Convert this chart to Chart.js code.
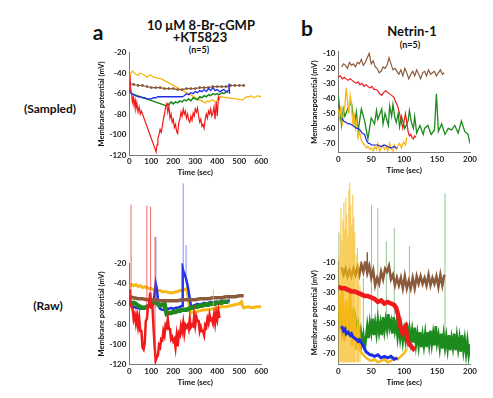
<!DOCTYPE html>
<html><head><meta charset="utf-8">
<script src="https://cdn.jsdelivr.net/npm/chart.js@4/dist/chart.umd.min.js"></script>
<style>
html,body{margin:0;padding:0;background:#fff;}
body{width:493px;height:398px;position:relative;overflow:hidden;font-family:Lato,"Open Sans",sans-serif;}
canvas{position:absolute;}
.t{position:absolute;transform:translate(-50%,-50%);font-weight:bold;color:#111;white-space:nowrap;line-height:1;}
</style></head><body>
<div class="t" style="left:98px;top:31px;font-size:21px;">a</div>
<div class="t" style="left:201px;top:25px;font-size:13px;">10 μM 8-Br-cGMP</div>
<div class="t" style="left:200px;top:37px;font-size:13px;">+KT5823</div>
<div class="t" style="left:199px;top:49px;font-size:9px;">(n=5)</div>
<div class="t" style="left:307px;top:27px;font-size:21px;">b</div>
<div class="t" style="left:412px;top:31px;font-size:13px;">Netrin-1</div>
<div class="t" style="left:410px;top:44px;font-size:9px;">(n=5)</div>
<div class="t" style="left:50px;top:109px;font-size:12px;">(Sampled)</div>
<div class="t" style="left:48px;top:306px;font-size:12px;">(Raw)</div>
<canvas id="aS" width="178" height="132" style="left:97px;top:45px;"></canvas>
<canvas id="bS" width="174" height="131" style="left:310px;top:44px;"></canvas>
<canvas id="aR" width="178" height="217" style="left:97px;top:170px;"></canvas>
<canvas id="bR" width="174" height="222" style="left:310px;top:165px;"></canvas>
<script>
// ---------- tick labels ----------
const aXTicks = [0,100,200,300,400,500,600];
const aYTicks = [-20,-40,-60,-80,-100,-120];
const bXTicks = [0,50,100,150,200];
const bYTicks = [-10,-20,-30,-40,-50,-60,-70];

// ---------- panel a, sampled ----------
const aS_yellow_x = [0,5,10,15,20,30,40,50,60,70,80,90,100,110,120,130,140,150,345,355,365,375,385,395,405,412,518,525,535,545,555,565,575,585,595,600];
const aS_yellow_y = [-45,-41,-39,-38,-39,-41,-42,-40,-41,-42,-44,-42,-42,-44,-44,-45,-45,-46,-69,-67,-68,-66,-67,-68,-65,-63,-66,-64,-63,-63,-62,-64,-63,-62,-63,-62];
const aS_brown_x = [0,20,40,60,80,100,120,140,160,180,200,220,240,260,280,300,320,340,360,380,400,420,440,460,480,500,520];
const aS_brown_y = [-50,-51,-52,-52,-53,-54,-54,-54,-55,-55,-55,-56,-56,-55,-55,-55,-54,-54,-54,-53,-53,-53,-53,-52,-52,-52,-52];
const aS_blue_x = [0,10,20,30,40,50,60,70,80,90,100,110,120,130,140,150,160,240,250,260,270,280,290,300,310,320,330,340,350,360,370,380,390,400,410,420,430,440,450,453,456];
const aS_blue_y = [-57,-60,-61,-62,-63,-63,-64,-64,-65,-65,-65,-64,-64,-63,-63,-63,-63,-63,-62,-60,-61,-59,-60,-58,-59,-57,-58,-56,-58,-55,-57,-54,-57,-56,-58,-57,-56,-58,-57,-50,-60];
const aS_green_x = [0,5,10,170,175,180,190,200,210,220,230,240,250,260,270,280,290,300,310,320,330,340,350,360,370,380,390,400,410,420,430,440,450];
const aS_green_y = [-55,-58,-60,-72,-70,-71,-68,-70,-68,-69,-67,-68,-66,-67,-65,-67,-64,-65,-66,-63,-64,-62,-63,-61,-62,-60,-61,-60,-61,-59,-60,-58,-59];
const aS_red_x = [0,3,6,10,14,18,22,26,30,35,40,45,50,55,122,126,130,135,140,145,150,155,160,165,170,175,180,185,190,195,200,205,210,215,220,225,230,235,240,245,250,255,260,265,270,275,280,285,290,295,300,305,310,315,320,325,330,335,340,345,350,355,360,365,370,375,380,385,390,395,400,405,410];
const aS_red_y = [-45,-42,-55,-60,-68,-63,-72,-66,-75,-70,-78,-73,-80,-77,-117,-110,-104,-100,-95,-98,-92,-85,-80,-73,-70,-78,-72,-84,-80,-88,-85,-93,-90,-97,-99,-88,-85,-78,-82,-75,-80,-77,-84,-80,-86,-88,-82,-86,-79,-82,-75,-78,-74,-82,-88,-85,-92,-90,-94,-85,-80,-84,-77,-80,-75,-82,-79,-73,-85,-68,-82,-63,-66];

// ---------- panel b, sampled ----------
const bS_brown_x = [5,8,11,14,17,20,23,26,29,32,35,38,41,44,47,50,53,56,59,62,65,68,71,74,77,80,83,86,89,92,95,98,101,104,107,110,113,116,119,122,125,128,131,134,137,140,143,146,149,152,155,158,161];
const bS_brown_y = [-19,-17,-18,-20,-16,-18,-17,-19,-16,-17,-14,-18,-16,-13,-10,-17,-15,-19,-20,-23,-22,-19,-20,-18,-13,-17,-21,-20,-22,-24,-21,-25,-20,-23,-27,-24,-22,-25,-21,-24,-27,-23,-22,-25,-21,-24,-23,-22,-25,-23,-21,-24,-23];
const bS_red_x = [0,3,6,9,12,15,18,21,24,27,30,33,36,39,42,45,48,51,54,57,60,63,66,69,72,75,78,81,84,87,90,93,96,98,100,102,104,106,108,110,112,114,116,118];
const bS_red_y = [-26,-25,-27,-26,-27,-28,-27,-28,-29,-30,-29,-31,-30,-32,-31,-32,-33,-32,-34,-34,-35,-37,-38,-36,-35,-36,-37,-38,-39,-42,-45,-50,-56,-60,-55,-50,-56,-62,-65,-64,-66,-67,-65,-66];
const bS_green_x = [0,2.5,5,7.5,10,15,20,22.5,25,27.5,30,35,40,45,47.5,50,55,58,60,66,68,71,76,78,81,83,86,88,91,93,96,101,106,108,111,114,116,119,124,129,131,136,141,146,149,152,157,162,167,172,177,182,187,192,197,200];
const bS_green_y = [-38,-49,-58,-47,-52,-46,-43,-51,-56,-49,-62,-47,-55,-67,-60,-53,-57,-48,-54,-47,-57,-50,-58,-45,-52,-44,-53,-56,-50,-59,-52,-60,-55,-48,-56,-60,-52,-63,-58,-64,-60,-58,-64,-61,-37,-62,-57,-64,-60,-61,-58,-63,-55,-62,-64,-70];
const bS_yellow_x = [0,2,4,6,8,10,12,14,16,18,20,22,24,26,28,30,32,35,38,40,43,45,48,50,53,55,58,60,63,65,68,70,73,75,78,80,83,85,88,90,93,96,99,102,104];
const bS_yellow_y = [-47,-53,-45,-58,-50,-45,-33,-42,-50,-38,-44,-58,-50,-60,-55,-66,-62,-68,-70,-71,-73,-72,-74,-73,-75,-72,-74,-70,-75,-73,-71,-74,-72,-75,-70,-73,-75,-71,-74,-72,-70,-73,-69,-71,-66];
const bS_blue_x = [5,8,12,15,18,22,25,28,30,33,36,40,42,44,46,48,50,55,60,65,70,75,80,85,88,90];
const bS_blue_y = [-53,-55,-56,-57,-57,-58,-59,-60,-60,-61,-63,-64,-67,-69,-70,-70,-71,-71,-71,-72,-71,-72,-73,-72,-73,-73];

// ---------- panel a, raw ----------
const aR_yellow_x = [0,10,20,30,40,50,60,70,80,90,100,110,120,130,140,150,160,170,180,190,200,210,220,230,240,250,260,265,270,275,280,290,300,320,340,360,380,400,420,440,460,480,500,510,515,520,540,560,580,600];
const aR_yellow_y = [-43,-41,-42,-41,-43,-42,-44,-43,-44,-45,-45,-46,-46,-47,-47,-48,-48,-48,-49,-49,-49,-48,-48,-47,-47,-46,-45,-50,-58,-66,-69,-68,-68,-67,-66,-66,-65,-64,-63,-63,-62,-61,-60,-58,-62,-64,-63,-64,-63,-63];
const aR_brown_x = [0,20,40,60,80,100,120,140,160,180,200,220,240,260,280,300,320,340,360,380,400,420,440,460,480,500,520];
const aR_brown_y = [-53,-54,-55,-55,-56,-56,-56,-57,-57,-57,-57,-57,-56,-56,-56,-56,-55,-55,-55,-54,-54,-54,-53,-53,-53,-52,-52];
const aR_blue_x = [0,5,10,20,30,40,50,60,70,80,90,100,110,115,120,125,130,135,140,150,160,170,180,190,200,210,220,230,240,243,246,250,255,260,265,270,275,280,285,290,300,310,320,330,340,350,360,370,380,390,400,410,420,430,440,450,455];
const aR_blue_y = [-57,-60,-62,-63,-64,-64,-65,-65,-64,-64,-63,-62,-60,-50,-40,-45,-55,-63,-65,-66,-66,-65,-65,-64,-65,-64,-64,-63,-62,-25,-28,-30,-33,-37,-42,-48,-55,-62,-63,-62,-61,-60,-61,-60,-59,-60,-59,-58,-59,-58,-58,-59,-57,-58,-58,-57,-58];
const aR_green_x = [0,10,20,30,40,50,60,70,80,90,100,110,120,130,140,150,160,165,170,180,190,200,210,220,230,240,250,260,270,280,290,300,310,320,330,340,350,360,370,380,390,400,410,420,430,440,450];
const aR_green_y = [-61,-60,-59,-60,-62,-63,-64,-64,-63,-62,-61,-59,-58,-60,-62,-61,-60,-66,-70,-69,-69,-68,-68,-67,-67,-66,-66,-66,-65,-64,-64,-63,-63,-62,-62,-61,-61,-61,-60,-60,-60,-59,-59,-59,-58,-58,-58];
const aR_red_x = [0,3,6,10,15,20,25,30,35,40,45,50,55,60,65,70,75,80,85,90,95,100,105,110,115,120,125,130,135,140,145,150,155,160,165,170,175,180,185,190,195,200,205,210,215,220,225,230,235,240,245,250,255,260,265,270,275,280,285,290,295,300,305,310,315,320,325,330,335,340,345,350,355,360,365,370,375,380,385,390,395,400,405,410];
const aR_red_y = [-46,-50,-58,-63,-65,-75,-71,-79,-72,-82,-74,-87,-87,-103,-105,-99,-77,-75,-63,-61,-49,-63,-62,-83,-102,-116,-113,-111,-101,-103,-95,-96,-87,-91,-81,-83,-75,-85,-85,-95,-93,-97,-95,-103,-92,-102,-89,-91,-82,-87,-79,-89,-81,-83,-81,-85,-75,-83,-81,-82,-72,-81,-73,-77,-77,-87,-83,-87,-87,-91,-81,-83,-75,-79,-71,-76,-75,-79,-71,-79,-69,-75,-67,-74];
const aR_spkRed_x = [8,80,97,117];
const aR_spkRed_base = [-60,-75,-60,-118];
const aR_spkRed_top = [38,37,36,6];
const aR_spkBlue_x = [121,245,258,455];
const aR_spkBlue_base = [-64,-62,-40,-60];
const aR_spkBlue_top = [6,59,-2,-52];
const aR_spkYellow_x = [382];
const aR_spkYellow_base = [-65];
const aR_spkYellow_top = [-46];

// ---------- panel b, raw ----------
const bR_brown_x = [5,8,11,14,17,20,23,26,29,32,35,38,41,44,47,50,53,56,59,62,65,68,71,74,77,80,83,86,89,92,95,98,101,104,107,110,113,116,119,122,125,128,131,134,137,140,143,146,149,152,155,158,161];
const bR_brown_y = [-13,-18,-14,-19,-15,-19,-14,-18,-13,-18,-11,-16,-9,-17,-12,-20,-15,-25,-20,-24,-16,-21,-14,-16,-12,-21,-18,-25,-20,-25,-20,-27,-19,-27,-22,-27,-20,-27,-19,-24,-19,-24,-20,-25,-18,-25,-20,-24,-19,-26,-18,-25,-18];
const bR_red_x = [0,5,10,15,20,25,30,35,40,45,50,55,60,65,70,75,80,85,88,91,94,97,100,102,104,106,108,110,112,114,116];
const bR_red_y = [-26,-27,-27,-28,-29,-29,-30,-31,-32,-32,-33,-34,-36,-35,-37,-36,-37,-38,-40,-45,-52,-56,-53,-52,-58,-62,-64,-65,-66,-67,-66];
const bR_green_x = [0,2,4,6,8,10,12,14,16,18,20,22,24,26,28,30,32,34,36,38,40,42,44,46,48,50,52,54,56,58,60,62,64,66,68,70,72,74,76,78,80,82,84,86,88,90,92,94,96,98,100,102,104,106,108,110,112,114,116,118,120,122,124,126,128,130,132,134,136,138,140,142,144,146,148,150,152,154,156,158,160,162,164,166,168,170,172,174,176,178,180,182,184,186,188,190,192,194,196,198,200];
const bR_green_y = [-41,-48,-44,-55,-50,-60,-52,-47,-55,-44,-50,-45,-54,-48,-57,-52,-60,-55,-63,-58,-68,-60,-52,-60,-50,-56,-47,-58,-50,-57,-48,-56,-50,-58,-46,-55,-48,-54,-44,-53,-49,-57,-46,-55,-50,-59,-51,-60,-53,-62,-55,-61,-50,-60,-54,-62,-55,-63,-53,-64,-57,-65,-56,-66,-58,-65,-57,-66,-56,-64,-55,-64,-57,-65,-52,-63,-58,-66,-57,-67,-58,-66,-59,-67,-58,-68,-60,-66,-57,-68,-59,-67,-60,-69,-58,-68,-61,-70,-62,-71,-64];
const bR_yellow_x = [0,3,6,9,12,15,18,21,24,27,30,33,36,40,45,50,55,60,65,70,75,80,85,90,95,100,104];
const bR_yellow_y = [-30,-55,-25,-62,-35,-58,-28,-65,-40,-68,-50,-68,-70,-72,-74,-75,-74,-76,-75,-74,-76,-75,-73,-74,-72,-70,-67];
const bR_blue_x = [5,8,10,12,15,18,20,22,25,28,30,32,35,38,40,42,45,48,50,55,60,65,70,75,80,85,90];
const bR_blue_y = [-52,-55,-54,-57,-56,-58,-57,-59,-60,-61,-62,-61,-63,-65,-67,-69,-70,-71,-71,-72,-71,-73,-72,-73,-72,-74,-73];
const bR_spkYellow_x = [1,2.5,4,5.5,7,8.5,10,11.5,13,14.5,16,17.5,19,20.5,22,23.5,25,27,29,31,33];
const bR_spkYellow_base = [-76,-76,-76,-76,-76,-76,-76,-76,-76,-76,-76,-76,-76,-76,-76,-76,-76,-76,-76,-76,-76];
const bR_spkYellow_top = [-5,10,26,5,18,30,12,33,22,8,38,43,28,15,35,20,10,-5,0,-10,-25];
const bR_spkGreen_x = [0,38,50.5,60,73,85,108,162];
const bR_spkGreen_base = [-45,-55,-55,-50,-52,-55,-57,-60];
const bR_spkGreen_top = [10,-20,28,26,4,13,1,36];
const bR_spkBrown_x = [44];
const bR_spkBrown_base = [-14];
const bR_spkBrown_top = [-3];

// ---------- styling ----------
const RED = '#f01a1a', GREEN = '#1c8a1c', BLUE = '#1e2ee6', YELLOW = '#f6b817', BROWN = '#8b5a3a';
const AXIS = '#7a7a7a';
Chart.defaults.font.family = 'Lato, "Open Sans", sans-serif';

function pts(xs, ys) { return xs.map((x, i) => ({x: x, y: ys[i]})); }
function spikes(xs, bases, tops) {
  const out = [];
  xs.forEach((x, i) => { out.push({x: x, y: bases[i]}); out.push({x: x, y: tops[i]}); out.push({x: x, y: null}); });
  return out;
}
function ds(data, color, width, extra) {
  return Object.assign({data: data, borderColor: color, backgroundColor: color, borderWidth: width,
    pointRadius: 0, tension: 0, fill: false, spanGaps: false}, extra || {});
}
const NOCLIPTOP = {left: 0, top: false, right: 0, bottom: 0};

function makeChart(id, g, o) {
  new Chart(document.getElementById(id), {
    type: 'line',
    data: {datasets: o.datasets},
    options: {
      responsive: false, animation: false, events: [], devicePixelRatio: 1,
      layout: {padding: {left: 0, top: g.padTop, right: g.padRight, bottom: 0}},
      plugins: {legend: {display: false}, tooltip: {enabled: false}},
      scales: {
        x: {type: 'linear', min: 0, max: o.xMax,
          grid: {display: false, drawTicks: false},
          border: {display: true, color: AXIS, width: 1},
          ticks: {font: {size: 8, weight: 'bold'}, color: '#222', padding: 2, maxRotation: 0, autoSkip: false},
          afterBuildTicks: s => { s.ticks = o.xTicks.map(v => ({value: v})); },
          afterFit: s => { s.height = g.xh; },
          title: {display: true, text: 'Time (sec)', font: {size: 8, weight: 'bold'}, color: '#111', padding: 0}},
        y: {type: 'linear', min: o.yMin, max: o.yMax,
          grid: {display: false, drawTicks: false},
          border: {display: true, color: AXIS, width: 1},
          ticks: {font: {size: 8, weight: 'bold'}, color: '#222', padding: 3},
          afterBuildTicks: s => { s.ticks = o.yTicks.map(v => ({value: v})); },
          afterFit: s => { s.width = g.yw; },
          title: {display: true, text: o.yTitle, font: {size: 7.5, weight: 'bold'}, color: '#111', padding: 0}}
      }
    }
  });
}

// a sampled
makeChart('aS', {padTop: 7.7, padRight: 13.7, xh: 22, yw: 32.3}, {
  xMax: 600, yMin: -120, yMax: -20, xTicks: aXTicks, yTicks: aYTicks, yTitle: 'Membrane potential (mV)',
  datasets: [
    ds(pts(aS_red_x, aS_red_y), RED, 1.2),
    ds(pts(aS_blue_x, aS_blue_y), BLUE, 1.3),
    ds(pts(aS_green_x, aS_green_y), GREEN, 1.5),
    ds(pts(aS_brown_x, aS_brown_y), BROWN, 1.2, {pointRadius: 0.8}),
    ds(pts(aS_yellow_x, aS_yellow_y), YELLOW, 1.3)
  ]
});

// b sampled
makeChart('bS', {padTop: 6.2, padRight: 14, xh: 22.5, yw: 28.3}, {
  xMax: 200, yMin: -76, yMax: -9, xTicks: bXTicks, yTicks: bYTicks, yTitle: 'Membranepotential (mV)',
  datasets: [
    ds(pts(bS_blue_x, bS_blue_y), BLUE, 1.2),
    ds(pts(bS_yellow_x, bS_yellow_y), YELLOW, 1.3),
    ds(pts(bS_red_x, bS_red_y), RED, 1.2),
    ds(pts(bS_green_x, bS_green_y), GREEN, 1.3),
    ds(pts(bS_brown_x, bS_brown_y), BROWN, 1.2)
  ]
});

// a raw
makeChart('aR', {padTop: 93.3, padRight: 13.7, xh: 22.5, yw: 32.3}, {
  xMax: 600, yMin: -120, yMax: -20, xTicks: aXTicks, yTicks: aYTicks, yTitle: 'Membrane potential (mV)',
  datasets: [
    ds(spikes(aR_spkRed_x, aR_spkRed_base, aR_spkRed_top), 'rgba(240,50,50,0.75)', 1, {clip: NOCLIPTOP}),
    ds(spikes(aR_spkBlue_x, aR_spkBlue_base, aR_spkBlue_top), 'rgba(70,80,235,0.65)', 1, {clip: NOCLIPTOP}),
    ds(spikes(aR_spkYellow_x, aR_spkYellow_base, aR_spkYellow_top), 'rgba(246,184,23,0.8)', 1, {clip: NOCLIPTOP}),
    ds(pts(aR_red_x, aR_red_y), RED, 2.5),
    ds(pts(aR_brown_x, aR_brown_y), BROWN, 3.5),
    ds(pts(aR_green_x, aR_green_y), GREEN, 4.5),
    ds(pts(aR_blue_x, aR_blue_y), BLUE, 2.5),
    ds(pts(aR_yellow_x, aR_yellow_y), YELLOW, 3)
  ]
});

// b raw
makeChart('bR', {padTop: 96.2, padRight: 14, xh: 22.7, yw: 28.3}, {
  xMax: 200, yMin: -77.3, yMax: -9, xTicks: bXTicks, yTicks: bYTicks, yTitle: 'Membrane potential (mV)',
  datasets: [
    ds(pts(bR_blue_x, bR_blue_y), BLUE, 3),
    ds(pts(bR_red_x, bR_red_y), RED, 4.5),
    ds(spikes(bR_spkYellow_x, bR_spkYellow_base, bR_spkYellow_top), 'rgba(246,184,23,0.85)', 1, {clip: NOCLIPTOP}),
    ds(pts(bR_yellow_x, bR_yellow_y), YELLOW, 2.5),
    ds(spikes(bR_spkBrown_x, bR_spkBrown_base, bR_spkBrown_top), BROWN, 1.5, {clip: NOCLIPTOP}),
    ds(pts(bR_brown_x, bR_brown_y), BROWN, 2.5),
    ds(pts(bR_green_x, bR_green_y), GREEN, 2.5),
    ds(spikes(bR_spkGreen_x, bR_spkGreen_base, bR_spkGreen_top), 'rgba(110,175,110,0.75)', 1, {clip: NOCLIPTOP})
  ]
});
</script>
</body></html>
